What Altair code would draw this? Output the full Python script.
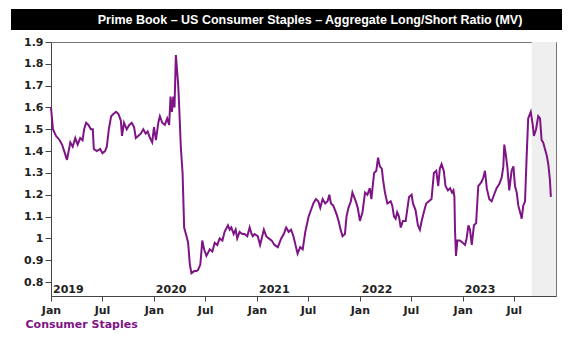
import altair as alt
import pandas as pd

TITLE = "Prime Book \u2013 US Consumer Staples \u2013 Aggregate Long/Short Ratio (MV)"
SERIES = "Consumer Staples"

# week offsets from 2019-01-01 and the long/short ratio
weeks = [0, 1, 2.5, 4.4, 5.6, 6.7, 8.1, 9.8, 11, 12.3, 13.5, 14.8, 16, 16.8, 17.8, 19, 20.2, 21.2, 21.7,
         23.2, 24.9, 26.1, 27.4, 28.3, 29.3, 30.5, 31.6, 33, 34.2, 35.4, 36, 37, 38.4, 39.7, 40.9, 42.1,
         43, 44.3, 45.5, 46.8, 48, 49, 50.2, 51.3, 52.2, 53.2, 54.4, 55.2, 56.4, 57.7, 58.9, 59.9, 60.6,
         61.3, 62, 62.6, 63.3, 64, 64.5, 65, 65.8, 66.7, 67.5, 68.7, 69.5, 70.4, 71.2, 72.6, 73.7, 74.5,
         75.7, 76.7, 77.6, 78.8, 80.5, 81.8, 83, 84.3, 85.5, 86.9, 88, 89.7, 90.6, 91.4, 92.6, 93.6, 94.4,
         95.6, 97, 98.1, 99.5, 100.7, 101.7, 102.3, 103.2, 104.8, 106, 107.9, 109.1, 110.4, 111.9, 113.3,
         115, 116.7, 118, 119.2, 120.5, 121.7, 122.9, 124.2, 125, 126.3, 127.6, 128.9, 130.6, 131.8, 133,
         134.3, 135.5, 136.5, 137.7, 139, 140.2, 141.1, 141.9, 143.1, 144.8, 145.8, 146.8, 147.8, 149,
         149.8, 150.8, 152, 152.8, 154.5, 155.5, 156.6, 157.9, 159.2, 160.4, 161.6, 162.4, 163.8, 164.9,
         165.8, 166.7, 167.7, 168.3, 169.3, 170.5, 172.2, 173, 173.9, 174.7, 175.5, 176.4, 177.3, 178.4,
         179.8, 181.5, 182.8, 183.5, 184.8, 186, 187, 187.9, 189, 190.2, 191.6, 192.9, 194.1, 195.3, 196.3,
         197.1, 198, 199.1, 200, 201.2, 202.3, 203.3, 204, 204.5, 204.8, 205.3, 206, 207.3, 208.7, 209.9,
         210.7, 211.6, 212.4, 213.3, 214.4, 215.5, 216.6, 217.5, 218.3, 219.2, 220, 220.9, 222.2, 223.4,
         224.6, 225.9, 227.3, 228.5, 229.3, 229.8, 230.6, 231.3, 232.3, 233.5, 234.4, 235.2, 236.1, 236.9,
         238.1, 238.6, 239.4, 240.3, 241.1, 241.9, 243.2, 244.2, 244.8, 245.9, 247, 247.9, 248.7, 249.5,
         250.4, 251.3, 252.1, 252.9, 253.4]
ratio = [1.60, 1.50, 1.47, 1.45, 1.43, 1.40, 1.36, 1.44, 1.42, 1.46, 1.43, 1.46, 1.45, 1.50, 1.53, 1.52, 1.50, 1.50, 1.41,
         1.40, 1.41, 1.39, 1.40, 1.42, 1.50, 1.56, 1.57, 1.58, 1.57, 1.54, 1.47, 1.53, 1.50, 1.52, 1.53, 1.51,
         1.46, 1.47, 1.48, 1.50, 1.48, 1.49, 1.46, 1.44, 1.51, 1.45, 1.53, 1.56, 1.53, 1.52, 1.55, 1.52, 1.65,
         1.58, 1.65, 1.60, 1.84, 1.76, 1.70, 1.60, 1.42, 1.30, 1.05, 1.01, 0.98, 0.88, 0.84, 0.85, 0.85, 0.855,
         0.88, 0.99, 0.95, 0.92, 0.95, 0.94, 0.98, 0.97, 1.00, 0.99, 1.03, 1.06, 1.04, 1.05, 1.02, 1.04, 1.00,
         1.03, 1.02, 1.02, 1.01, 1.05, 1.02, 1.01, 1.02, 1.01, 0.97, 1.04, 1.01, 1.00, 0.99, 0.97,
         0.96, 1.00, 1.02, 1.05, 1.03, 1.04, 1.01, 0.96, 0.93, 0.96, 0.95, 1.03, 1.10, 1.13, 1.16,
         1.18, 1.17, 1.14, 1.18, 1.16, 1.17, 1.20, 1.16, 1.15, 1.11, 1.08, 1.04, 1.01, 1.02,
         1.10, 1.14, 1.17, 1.21, 1.17, 1.14, 1.08, 1.12, 1.21, 1.20, 1.23, 1.18, 1.30, 1.31,
         1.37, 1.33, 1.32, 1.27, 1.21, 1.16, 1.17, 1.15, 1.10, 1.09, 1.12, 1.10, 1.05, 1.08,
         1.08, 1.19, 1.20, 1.16, 1.13, 1.06, 1.04, 1.08, 1.12, 1.16, 1.17, 1.18, 1.30, 1.31, 1.24,
         1.32, 1.34, 1.31, 1.24, 1.22, 1.23, 1.21, 1.22, 1.19, 1.04, 0.92, 0.99, 0.99, 0.98, 0.97,
         1.00, 1.06, 1.04, 0.97, 1.06, 1.07, 1.24, 1.25, 1.26, 1.28, 1.31, 1.23, 1.18, 1.17,
         1.20, 1.23, 1.25, 1.28, 1.33, 1.43, 1.38, 1.33, 1.22, 1.31, 1.33, 1.24, 1.21, 1.15,
         1.11, 1.09, 1.15, 1.17, 1.37, 1.55, 1.58, 1.52, 1.47, 1.50, 1.56, 1.55, 1.45, 1.44,
         1.41, 1.38, 1.34, 1.27, 1.19]

years = [2019, 2020, 2021, 2022, 2023]
y_ticks = [0.8, 0.9, 1.0, 1.1, 1.2, 1.3, 1.4, 1.5, 1.6, 1.7, 1.8, 1.9]
shade_start = "2023-09-03"
x_end = "2023-11-28"

start = pd.Timestamp("2019-01-01")
df = pd.DataFrame({"date": start + pd.to_timedelta(pd.Series(weeks) * 7, unit="D"), "ratio": ratio})
df["date"] = df["date"].dt.strftime("%Y-%m-%dT%H:%M:%S")
years_df = pd.DataFrame({"date": [f"{y}-01-01T00:00:00" for y in years], "label": [str(y) for y in years]})
shade_df = pd.DataFrame({"date": [shade_start + "T00:00:00"], "date2": [x_end + "T00:00:00"]})

W, H = 505, 254
PURPLE = "#7E1485"
LABEL_FONT = "DejaVu Sans"

x_ticks = []
for y in years:
    x_ticks.append(alt.DateTime(year=y, month=1, date=1))
    x_ticks.append(alt.DateTime(year=y, month=7, date=1))

x_scale = alt.Scale(domain=[alt.DateTime(year=2019, month=1, date=1),
                            alt.DateTime(year=2023, month=11, date=28)], nice=False)
y_scale = alt.Scale(domain=[0.736, 1.9], nice=False, zero=False)

shade = alt.Chart(shade_df).mark_rect(color="#EFEFEF").encode(
    x=alt.X("date:T", scale=x_scale),
    x2="date2:T",
    y=alt.value(0),
    y2=alt.value(H),
)

line = alt.Chart(df).mark_line(color=PURPLE, strokeWidth=2).encode(
    x=alt.X("date:T", scale=x_scale,
            axis=alt.Axis(values=x_ticks, format="%b", title=SERIES,
                          labelFont=LABEL_FONT, labelFontSize=11, labelFontWeight="bold",
                          labelColor="#222", labelPadding=3, tickSize=5, tickColor="#444",
                          domainColor="#444", grid=False, labelFlush=False, labelOverlap=False,
                          titleFont=LABEL_FONT, titleFontSize=11, titleFontWeight="bold",
                          titleColor=PURPLE, titleAlign="left", titleAnchor="start",
                          titleX=-26, titleY=31, titleBaseline="alphabetic")),
    y=alt.Y("ratio:Q", scale=y_scale,
            axis=alt.Axis(values=y_ticks, format=".1~f", title=None,
                          labelFont=LABEL_FONT, labelFontSize=11, labelFontWeight="bold",
                          labelColor="#222", labelPadding=2, tickSize=6, tickColor="#444",
                          domainColor="#444", grid=False, labelFlush=False, labelOverlap=False)),
)

year_text = alt.Chart(years_df).mark_text(
    align="left", baseline="alphabetic", dx=2, font=LABEL_FONT, fontSize=11,
    fontWeight="bold", color="#222"
).encode(
    x=alt.X("date:T", scale=x_scale),
    y=alt.value(H - 3),
    text="label:N",
)

title_df = pd.DataFrame({"t": [TITLE]})
title_bar = alt.Chart(title_df).mark_rect(color="black").encode(
    x=alt.value(-40), x2=alt.value(511), y=alt.value(-33), y2=alt.value(-12)
)
title_text = alt.Chart(title_df).mark_text(
    color="white", font="Liberation Sans", fontSize=12.5, fontWeight="bold",
    align="center", baseline="middle"
).encode(x=alt.value(259), y=alt.value(-22), text="t:N")

chart = alt.layer(shade, line, year_text, title_bar, title_text).properties(
    width=W, height=H,
    autosize=alt.AutoSizeParams(type="none"),
    padding={"left": 51, "top": 42, "right": 24, "bottom": 42},
    background="white",
).configure_view(stroke="#777", strokeWidth=1)

chart.save("out.html", embed_options={"renderer": "svg", "actions": False})
